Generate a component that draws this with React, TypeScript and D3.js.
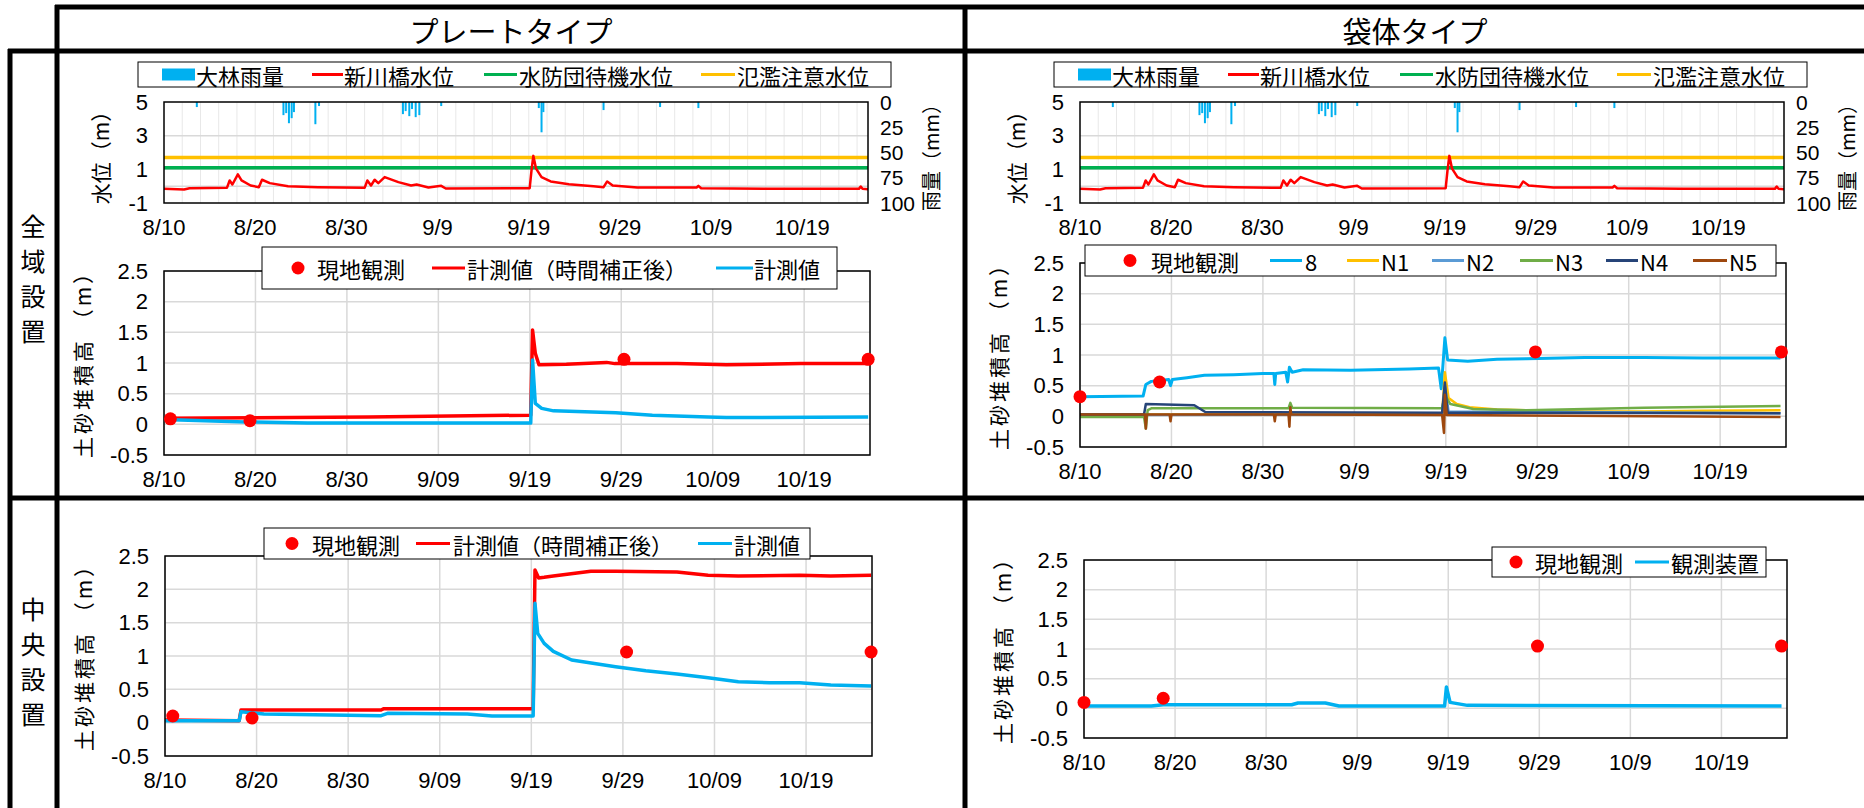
import React from 'react'
import * as d3 from 'd3'

type Pt = [number, number]

const FONT = '"Noto Sans CJK JP", "Noto Sans", sans-serif'
const NUM_FONT = '"Liberation Sans", Arial, sans-serif'
const RED = '#FF0000'
const SKY = '#00B0F0'
const GREEN = '#00B050'
const ORANGE = '#FFC000'
const GRID = '#D9D9D9'

// x axis: days counted from 8/10
const dayDomain: Pt = [0, 77.2]
const dayTicks = [0, 10, 20, 30, 40, 50, 60, 70]
const plateDateLabels = ['8/10', '8/20', '8/30', '9/09', '9/19', '9/29', '10/09', '10/19']
const bagDateLabels = ['8/10', '8/20', '8/30', '9/9', '9/19', '9/29', '10/9', '10/19']

const levelTicks = [5, 3, 1, -1]
const levelGrid = [3, 1, 0]
const rainTicks = [0, 25, 50, 75, 100]
const sedimentTicks = [2.5, 2, 1.5, 1, 0.5, 0, -0.5]

// 大林雨量 [day, mm]
const rainfall: Pt[] = [
  [3.6, 5], [13.1, 13], [13.4, 11], [13.7, 21], [14.0, 16], [14.25, 10],
  [16.6, 22], [17.0, 4], [26.2, 12], [26.5, 9], [26.9, 14], [27.2, 7],
  [27.6, 15], [28.0, 13], [30.4, 4], [41.1, 6], [41.4, 30], [41.6, 10],
  [48.2, 8], [54.4, 5], [58.6, 6]
]
// 新川橋水位 [day, m]
const riverLevel: Pt[] = [
  [0, -0.16], [2.2, -0.2], [2.8, -0.12], [6.9, -0.1], [7.2, 0.34], [7.5, 0.1],
  [8.1, 0.7], [8.5, 0.34], [9.5, 0.04], [10.4, -0.06], [10.75, 0.38], [11.6, 0.18],
  [13.6, 0], [16.9, -0.06], [22.0, -0.1], [22.3, 0.34], [22.7, 0.04], [23.1, 0.38],
  [23.5, 0.18], [24.2, 0.54], [25.7, 0.24], [27.1, 0.04], [27.7, 0.1], [29.0, -0.08],
  [30.4, 0.02], [30.9, -0.14], [40.1, -0.12], [40.3, 0.94], [40.5, 1.8], [40.8, 1.04],
  [41.4, 0.54], [42.4, 0.28], [44.4, 0.12], [47.1, 0], [48.2, -0.06], [48.6, 0.28],
  [49.2, 0.04], [51.9, -0.08], [58.4, -0.08], [58.6, 0.02], [58.9, -0.12], [66, -0.16],
  [76.2, -0.16], [76.4, -0.02], [76.6, -0.16], [77.2, -0.18]
]
const standbyLevel = 1.1 // 水防団待機水位
const warningLevel = 1.7 // 氾濫注意水位

// プレートタイプ 全域設置
const plateWideObs: Pt[] = [[0.7, 0.09], [9.4, 0.06], [50.3, 1.06], [77, 1.06]]
const plateWideCorrected: Pt[] = [
  [0, 0.1], [22.4, 0.12], [40.1, 0.15], [40.3, 1.54], [40.6, 1.16], [41.0, 0.97],
  [44, 0.98], [48.4, 1.01], [49.3, 0.99], [56.1, 0.99], [61.5, 0.97], [69.6, 0.99], [77, 0.99]
]
const plateWideRaw: Pt[] = [
  [0, 0.08], [8.9, 0.04], [15.7, 0.02], [40.1, 0.02], [40.3, 1.05], [40.6, 0.34],
  [41.3, 0.26], [42.6, 0.22], [49.4, 0.19], [53.4, 0.15], [59.5, 0.12], [61.5, 0.11], [77, 0.12]
]

// プレートタイプ 中央設置
const plateCenterObs: Pt[] = [[0.85, 0.1], [9.5, 0.07], [50.4, 1.06], [77.1, 1.06]]
const plateCenterCorrected: Pt[] = [
  [0, 0.04], [8.1, 0.03], [8.3, 0.19], [23.6, 0.19], [23.9, 0.21], [40.2, 0.21],
  [40.4, 2.29], [40.8, 2.17], [41.4, 2.18], [42.4, 2.2], [46.5, 2.27], [49.2, 2.27],
  [55.9, 2.26], [59.3, 2.21], [62.6, 2.2], [69.3, 2.21], [72.7, 2.2], [77.1, 2.21]
]
const plateCenterRaw: Pt[] = [
  [0, 0.03], [8.1, 0.03], [8.3, 0.165], [10.8, 0.13], [23.6, 0.105], [24.3, 0.14],
  [33, 0.13], [35.7, 0.1], [40.2, 0.1], [40.4, 1.79], [40.7, 1.34], [41.4, 1.19],
  [42.4, 1.07], [44.4, 0.94], [49.2, 0.84], [52.5, 0.78], [55.9, 0.73], [59.3, 0.675],
  [62.6, 0.615], [66, 0.6], [69.3, 0.6], [72.7, 0.565], [77.1, 0.55]
]

// 袋体タイプ 全域設置
const bagWideObs: Pt[] = [[0, 0.32], [8.7, 0.56], [49.8, 1.05], [76.7, 1.05]]
const bagWide8: Pt[] = [
  [0, 0.32], [6.9, 0.33], [7.2, 0.52], [7.8, 0.57], [9.7, 0.6], [9.9, 0.5], [10.1, 0.6],
  [11.7, 0.63], [13.6, 0.67], [16.8, 0.68], [20, 0.7], [21.2, 0.7], [21.3, 0.52],
  [21.4, 0.7], [22.5, 0.72], [22.7, 0.56], [22.9, 0.8], [23.2, 0.72], [24.4, 0.76],
  [29.6, 0.75], [36, 0.77], [39.2, 0.79], [39.5, 0.45], [39.9, 1.28], [40.2, 0.92],
  [42.4, 0.9], [45.6, 0.93], [48.8, 0.94], [55.2, 0.96], [61.7, 0.96], [68.1, 0.95], [76.6, 0.95]
]
const bagWideN1: Pt[] = [
  [0, 0.03], [39.6, 0.04], [39.9, 0.72], [40.3, 0.3], [41.2, 0.2], [42.6, 0.15],
  [45.6, 0.11], [48.8, 0.1], [55.2, 0.08], [61.7, 0.08], [68.1, 0.09], [76.6, 0.1]
]
const bagWideN2: Pt[] = [[0, 0.02], [39.6, 0.03], [39.9, 0.5], [40.3, 0.08], [76.6, 0.05]]
const bagWideN3: Pt[] = [
  [0, -0.01], [7.0, -0.01], [7.2, -0.2], [7.4, 0.1], [7.8, 0.13], [22.8, 0.13], [23, 0.22],
  [23.2, 0.14], [39.6, 0.13], [39.9, 0.35], [40.5, 0.2], [43, 0.12], [48.8, 0.1],
  [61.7, 0.14], [76.6, 0.17]
]
const bagWideN4: Pt[] = [
  [0, 0.03], [7.0, 0.03], [7.2, 0.2], [12.5, 0.18], [13.7, 0.07], [39.6, 0.06],
  [39.9, 0.55], [40.2, 0.06], [76.6, 0.05]
]
const bagWideN5: Pt[] = [
  [0, 0.03], [7.1, 0.03], [7.2, -0.2], [7.3, 0.03], [9.8, 0.03], [9.9, -0.08], [10, 0.03],
  [21.2, 0.03], [21.3, -0.08], [21.4, 0.03], [22.8, 0.03], [22.9, -0.17], [23, 0.15],
  [23.1, 0.03], [39.6, 0.02], [39.8, -0.27], [39.9, 0.35], [40.1, 0.02], [76.6, -0.01]
]

// 袋体タイプ 中央設置
const bagCenterObs: Pt[] = [[0, 0.1], [8.7, 0.17], [49.8, 1.05], [76.6, 1.05]]
const bagCenterDevice: Pt[] = [
  [0, 0.04], [7.4, 0.04], [8.7, 0.06], [22.8, 0.06], [23.5, 0.09], [26.5, 0.09], [28, 0.04],
  [39.6, 0.04], [39.8, 0.36], [40.2, 0.1], [42.1, 0.05], [76.6, 0.04]
]

type Box = { left: number; top: number; width: number; height: number }

function WaterChart({ box, dateLabels }: { box: Box; dateLabels: string[] }) {
  const { left, top, width, height } = box
  const bottom = top + height
  const right = left + width
  const x = d3.scaleLinear().domain(dayDomain).range([left, right])
  const y = d3.scaleLinear().domain([-1, 5]).range([bottom, top])
  const yr = d3.scaleLinear().domain([0, 100]).range([top, bottom])
  const line = d3.line<Pt>().x(d => x(d[0])).y(d => y(d[1]))
  const minor = d3.range(2, dayDomain[1], 2)
  const lg = { x: left - 26, y: 62, w: 753, h: 25 }
  const ly = lg.y + lg.h / 2
  return (
    <g fontFamily={FONT}>
      {minor.map(d => (
        <line key={d} x1={x(d)} x2={x(d)} y1={top} y2={bottom} stroke="#E8E8E8" strokeWidth={1} />
      ))}
      {levelGrid.map(v => (
        <line key={v} x1={left} x2={right} y1={y(v)} y2={y(v)} stroke={GRID} strokeWidth={1.5} />
      ))}
      {rainfall.map(([d, mm], i) => (
        <rect key={i} x={x(d) - 1} y={top} width={2} height={yr(mm) - top} fill={SKY} />
      ))}
      <path d={line([[dayDomain[0], standbyLevel], [dayDomain[1], standbyLevel]]) || ''} stroke={GREEN} strokeWidth={3.5} fill="none" />
      <path d={line([[dayDomain[0], warningLevel], [dayDomain[1], warningLevel]]) || ''} stroke={ORANGE} strokeWidth={3.5} fill="none" />
      <path d={line(riverLevel) || ''} stroke={RED} strokeWidth={2.5} fill="none" strokeLinejoin="round" />
      <rect x={left} y={top} width={width} height={height} fill="none" stroke="#000" strokeWidth={1.5} />
      <g fontFamily={NUM_FONT} fontSize={22}>
        {levelTicks.map(v => (
          <text key={v} x={left - 16} y={y(v)} textAnchor="end" dominantBaseline="central">{v}</text>
        ))}
        {rainTicks.map(v => (
          <text key={v} x={right + 12} y={yr(v)} textAnchor="start" dominantBaseline="central" fontSize={21}>{v}</text>
        ))}
        {dayTicks.map((d, i) => (
          <text key={d} x={x(d)} y={bottom + 24} textAnchor="middle" dominantBaseline="central">{dateLabels[i]}</text>
        ))}
      </g>
      <text transform={`translate(${left - 64},${(top + bottom) / 2}) rotate(-90)`} textAnchor="middle" dominantBaseline="central" fontSize={21}>水位（m）</text>
      <text transform={`translate(${right + 62},${(top + bottom) / 2}) rotate(-90)`} textAnchor="middle" dominantBaseline="central" fontSize={20}>雨量（mm）</text>
      <rect x={lg.x} y={lg.y} width={lg.w} height={lg.h} fill="#fff" stroke="#000" strokeWidth={1} />
      <rect x={left - 2} y={ly - 6} width={33} height={12} fill={SKY} />
      <text x={left + 32} y={ly} dominantBaseline="central" fontSize={22}>大林雨量</text>
      <line x1={left + 148} x2={left + 179} y1={ly} y2={ly} stroke={RED} strokeWidth={3} />
      <text x={left + 180} y={ly} dominantBaseline="central" fontSize={22}>新川橋水位</text>
      <line x1={left + 320} x2={left + 353} y1={ly} y2={ly} stroke={GREEN} strokeWidth={3} />
      <text x={left + 355} y={ly} dominantBaseline="central" fontSize={22}>水防団待機水位</text>
      <line x1={left + 537} x2={left + 571} y1={ly} y2={ly} stroke={ORANGE} strokeWidth={3} />
      <text x={left + 573} y={ly} dominantBaseline="central" fontSize={22}>氾濫注意水位</text>
    </g>
  )
}

type Series = { data: Pt[]; color: string; width: number }
type LegendItem = { kind: 'dot' | 'line'; color: string; x: number; x2?: number; tx: number; label: string }

function SedimentChart({
  box, dateLabels, series, obs, legend, legendItems
}: {
  box: Box; dateLabels: string[]; series: Series[]; obs: Pt[]
  legend: { x: number; y: number; w: number; h: number }; legendItems: LegendItem[]
}) {
  const { left, top, width, height } = box
  const bottom = top + height
  const right = left + width
  const x = d3.scaleLinear().domain(dayDomain).range([left, right])
  const y = d3.scaleLinear().domain([-0.5, 2.5]).range([bottom, top])
  const line = d3.line<Pt>().x(d => x(d[0])).y(d => y(d[1]))
  const ly = legend.y + legend.h / 2
  return (
    <g fontFamily={FONT}>
      {sedimentTicks.map(v => (
        <line key={v} x1={left} x2={right} y1={y(v)} y2={y(v)} stroke={GRID} strokeWidth={1.5} />
      ))}
      {dayTicks.map(d => (
        <line key={d} x1={x(d)} x2={x(d)} y1={top} y2={bottom} stroke={GRID} strokeWidth={1.5} />
      ))}
      {series.map((s, i) => (
        <path key={i} d={line(s.data) || ''} stroke={s.color} strokeWidth={s.width} fill="none" strokeLinejoin="round" />
      ))}
      <rect x={left} y={top} width={width} height={height} fill="none" stroke="#000" strokeWidth={1.5} />
      {obs.map(([d, v], i) => (
        <circle key={i} cx={x(d)} cy={y(v)} r={6.5} fill={RED} />
      ))}
      <g fontFamily={NUM_FONT} fontSize={22}>
        {sedimentTicks.map(v => (
          <text key={v} x={left - 16} y={y(v)} textAnchor="end" dominantBaseline="central">{v}</text>
        ))}
        {dayTicks.map((d, i) => (
          <text key={d} x={x(d)} y={bottom + 24} textAnchor="middle" dominantBaseline="central">{dateLabels[i]}</text>
        ))}
      </g>
      <text transform={`translate(${left - 82},${(top + bottom) / 2 - 4}) rotate(-90)`} textAnchor="middle" dominantBaseline="central" fontSize={21} letterSpacing={3}>土砂堆積高 （m）</text>
      <rect x={legend.x} y={legend.y} width={legend.w} height={legend.h} fill="#fff" stroke="#000" strokeWidth={1} />
      {legendItems.map((it, i) => (
        <g key={i}>
          {it.kind === 'dot'
            ? <circle cx={it.x} cy={ly} r={6.5} fill={it.color} />
            : <line x1={it.x} x2={it.x2} y1={ly} y2={ly} stroke={it.color} strokeWidth={3} />}
          <text x={it.tx} y={ly} dominantBaseline="central" fontSize={22}>{it.label}</text>
        </g>
      ))}
    </g>
  )
}

function Frame() {
  const s = { stroke: '#000', strokeWidth: 5 }
  return (
    <g>
      <line x1={55} x2={1864} y1={7} y2={7} {...s} />
      <line x1={8} x2={1864} y1={51} y2={51} {...s} />
      <line x1={8} x2={1864} y1={498} y2={498} {...s} />
      <line x1={57} x2={57} y1={5} y2={808} {...s} />
      <line x1={10} x2={10} y1={49} y2={808} {...s} />
      <line x1={965} x2={965} y1={5} y2={808} {...s} />
    </g>
  )
}

function StackedLabel({ text, cx, cy }: { text: string; cx: number; cy: number }) {
  const chars = Array.from(text)
  const step = 35
  return (
    <g fontFamily={FONT} fontSize={25}>
      {chars.map((c, i) => (
        <text key={i} x={cx} y={cy + (i - (chars.length - 1) / 2) * step} textAnchor="middle" dominantBaseline="central">{c}</text>
      ))}
    </g>
  )
}

export default function App() {
  return (
    <div style={{ position: 'absolute', left: 0, top: 0 }}>
      <svg width={1864} height={808} style={{ display: 'block', background: '#fff' }}>
        <rect width={1864} height={808} fill="#fff" />
        <text x={511} y={30} textAnchor="middle" dominantBaseline="central" fontFamily={FONT} fontSize={29}>プレートタイプ</text>
        <text x={1415} y={30} textAnchor="middle" dominantBaseline="central" fontFamily={FONT} fontSize={29}>袋体タイプ</text>
        <StackedLabel text="全域設置" cx={33} cy={277} />
        <StackedLabel text="中央設置" cx={33} cy={660} />

        <WaterChart box={{ left: 164, top: 102, width: 704, height: 101 }} dateLabels={bagDateLabels} />
        <WaterChart box={{ left: 1080, top: 102, width: 704, height: 101 }} dateLabels={bagDateLabels} />

        <SedimentChart
          box={{ left: 164, top: 271, width: 706, height: 184 }}
          dateLabels={plateDateLabels}
          series={[
            { data: plateWideCorrected, color: RED, width: 3.5 },
            { data: plateWideRaw, color: SKY, width: 3.5 }
          ]}
          obs={plateWideObs}
          legend={{ x: 262, y: 247, w: 575, h: 42 }}
          legendItems={[
            { kind: 'dot', color: RED, x: 298, tx: 317, label: '現地観測' },
            { kind: 'line', color: RED, x: 432, x2: 465, tx: 467, label: '計測値（時間補正後）' },
            { kind: 'line', color: SKY, x: 716, x2: 753, tx: 754, label: '計測値' }
          ]}
        />
        <SedimentChart
          box={{ left: 165, top: 556, width: 707, height: 200 }}
          dateLabels={plateDateLabels}
          series={[
            { data: plateCenterCorrected, color: RED, width: 3.5 },
            { data: plateCenterRaw, color: SKY, width: 3.5 }
          ]}
          obs={plateCenterObs}
          legend={{ x: 264, y: 528, w: 546, h: 31 }}
          legendItems={[
            { kind: 'dot', color: RED, x: 292, tx: 312, label: '現地観測' },
            { kind: 'line', color: RED, x: 416, x2: 450, tx: 453, label: '計測値（時間補正後）' },
            { kind: 'line', color: SKY, x: 698, x2: 732, tx: 734, label: '計測値' }
          ]}
        />
        <SedimentChart
          box={{ left: 1080, top: 263, width: 706, height: 184 }}
          dateLabels={bagDateLabels}
          series={[
            { data: bagWide8, color: SKY, width: 3 },
            { data: bagWideN1, color: ORANGE, width: 2.5 },
            { data: bagWideN2, color: '#5B9BD5', width: 2.5 },
            { data: bagWideN3, color: '#70AD47', width: 2.5 },
            { data: bagWideN4, color: '#264478', width: 2.5 },
            { data: bagWideN5, color: '#9E480E', width: 2.5 }
          ]}
          obs={bagWideObs}
          legend={{ x: 1085, y: 245, w: 691, h: 31 }}
          legendItems={[
            { kind: 'dot', color: RED, x: 1130, tx: 1151, label: '現地観測' },
            { kind: 'line', color: SKY, x: 1270, x2: 1302, tx: 1305, label: '8' },
            { kind: 'line', color: ORANGE, x: 1347, x2: 1379, tx: 1381, label: 'N1' },
            { kind: 'line', color: '#5B9BD5', x: 1432, x2: 1464, tx: 1466, label: 'N2' },
            { kind: 'line', color: '#70AD47', x: 1520, x2: 1553, tx: 1555, label: 'N3' },
            { kind: 'line', color: '#264478', x: 1606, x2: 1638, tx: 1640, label: 'N4' },
            { kind: 'line', color: '#9E480E', x: 1693, x2: 1727, tx: 1729, label: 'N5' }
          ]}
        />
        <SedimentChart
          box={{ left: 1084, top: 560, width: 703, height: 178 }}
          dateLabels={bagDateLabels}
          series={[{ data: bagCenterDevice, color: SKY, width: 3.5 }]}
          obs={bagCenterObs}
          legend={{ x: 1492, y: 547, w: 274, h: 30 }}
          legendItems={[
            { kind: 'dot', color: RED, x: 1516, tx: 1535, label: '現地観測' },
            { kind: 'line', color: SKY, x: 1635, x2: 1669, tx: 1671, label: '観測装置' }
          ]}
        />
        <Frame />
      </svg>
    </div>
  )
}
